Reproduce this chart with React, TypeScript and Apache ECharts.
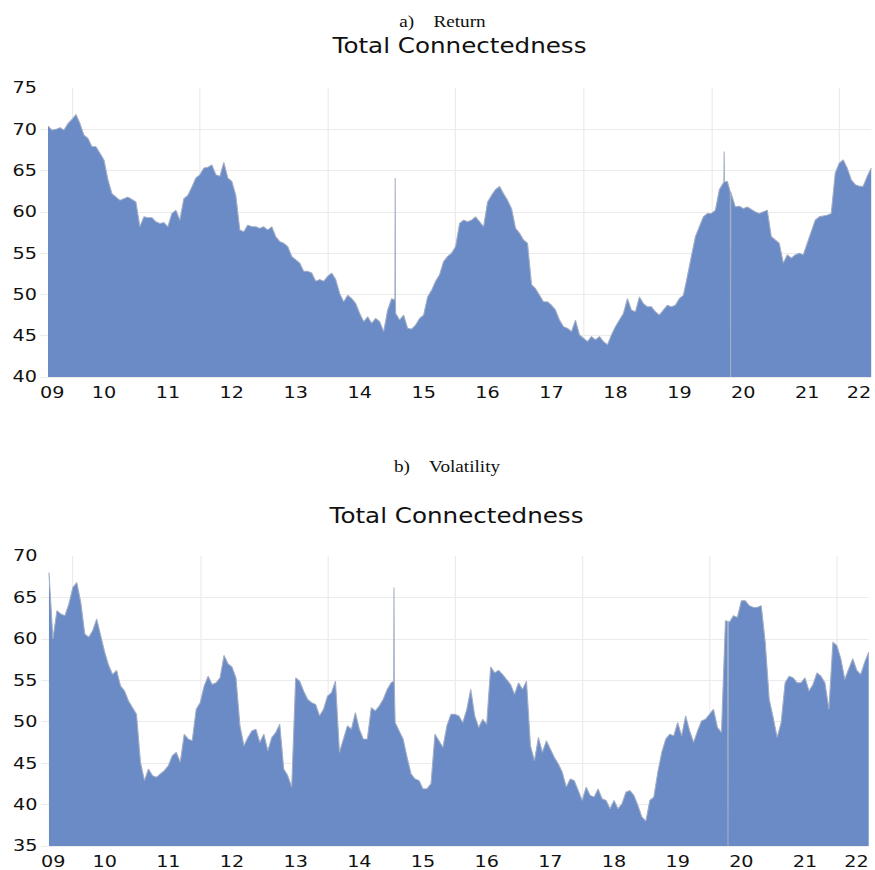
import { useEffect, useRef } from "react";
import * as echarts from "echarts";

// Year tick labels (two-digit years, 2009 ... 2022)
const yearLabels = ["09", "10", "11", "12", "13", "14", "15", "16", "17", "18", "19", "20", "21", "22"];
const firstYear = 2009;
const lastYear = 2022;

// Samples are spaced 1/16 of a year apart, starting early 2009
const firstSample = 2009.125;
const sampleStep = 1 / 16;

// a) Return – total connectedness index
const returnTci = [
  70.4, 69.9, 70.0, 70.2, 69.9, 70.7, 71.2, 71.8, 70.7, 69.3,
  68.9, 67.9, 67.9, 67.1, 66.3, 63.9, 62.2, 61.8, 61.4, 61.6,
  61.8, 61.5, 61.2, 58.2, 59.4, 59.3, 59.3, 58.8, 58.6, 58.7,
  58.2, 59.8, 60.2, 59.0, 61.6, 62.0, 63.0, 64.1, 64.5, 65.3,
  65.4, 65.7, 64.5, 64.3, 66.0, 64.1, 63.7, 62.0, 57.8, 57.6,
  58.4, 58.2, 58.2, 58.0, 58.2, 57.8, 58.2, 57.0, 56.4, 56.2,
  55.8, 54.6, 54.2, 53.8, 52.8, 52.8, 52.6, 51.6, 51.8, 51.6,
  52.2, 52.6, 51.8, 50.1, 49.1, 49.9, 49.5, 48.9, 47.7, 46.7,
  47.3, 46.5, 47.1, 46.7, 45.5, 48.1, 49.5, 47.7, 46.9, 47.5,
  45.9, 45.8, 46.3, 47.1, 47.5, 49.7, 50.5, 51.6, 52.4, 54.0,
  54.6, 55.0, 55.8, 58.6, 59.0, 58.8, 59.0, 59.4, 58.8, 58.2,
  61.2, 62.0, 62.7, 63.1, 62.2, 61.4, 60.4, 58.0, 57.4, 56.6,
  56.2, 51.2, 50.7, 49.9, 49.1, 49.1, 48.7, 48.1, 46.9, 46.1,
  45.9, 45.5, 46.9, 45.1, 44.7, 44.3, 44.9, 44.5, 44.9, 44.3,
  43.9, 45.1, 46.1, 46.9, 47.7, 49.5, 48.1, 47.9, 49.7, 48.9,
  48.5, 48.5, 47.9, 47.5, 48.1, 48.7, 48.5, 48.7, 49.5, 49.9,
  52.2, 54.6, 57.0, 58.2, 59.4, 59.8, 59.8, 60.2, 62.7, 63.5,
  63.7, 62.4, 60.6, 60.7, 60.4, 60.6, 60.3, 60.0, 59.8, 60.0,
  60.2, 57.0, 56.6, 56.2, 53.8, 54.8, 54.4, 54.8, 55.0, 54.8,
  56.2, 57.6, 59.0, 59.4, 59.5, 59.6, 59.8, 64.7, 65.9, 66.3,
  65.3, 63.9, 63.3, 63.1, 63.1, 64.3, 65.3,
];

// b) Volatility – total connectedness index
const volatilityTci = [
  68.0, 60.0, 63.4, 63.0, 62.8, 64.2, 66.2, 66.8, 64.4, 60.6,
  60.2, 61.0, 62.4, 60.4, 58.4, 56.8, 55.7, 56.2, 54.3, 53.7,
  52.5, 51.7, 50.9, 45.1, 42.9, 44.3, 43.5, 43.3, 43.7, 44.1,
  44.7, 45.9, 46.3, 45.1, 48.5, 47.9, 47.7, 51.5, 52.3, 54.3,
  55.5, 54.5, 54.7, 55.3, 58.0, 57.0, 56.6, 55.3, 49.5, 47.1,
  48.1, 48.9, 49.1, 47.5, 48.5, 46.5, 48.1, 48.7, 49.7, 44.3,
  43.5, 42.1, 55.3, 54.9, 53.7, 52.7, 52.3, 52.1, 50.7, 51.5,
  53.1, 53.5, 54.9, 46.3, 47.9, 49.5, 49.1, 51.1, 49.1, 47.9,
  47.9, 51.7, 51.3, 51.9, 52.7, 53.9, 54.7, 49.9, 48.9, 47.9,
  45.7, 43.7, 43.1, 42.9, 41.9, 41.9, 42.5, 48.5, 47.7, 46.9,
  49.5, 50.9, 50.9, 50.7, 49.9, 51.5, 53.9, 50.7, 49.3, 50.3,
  49.7, 56.6, 55.9, 56.2, 55.7, 55.1, 54.5, 53.3, 54.7, 53.9,
  54.9, 47.1, 45.3, 48.1, 46.3, 47.7, 46.7, 45.7, 44.9, 43.9,
  42.1, 43.1, 42.9, 41.7, 40.5, 42.1, 41.1, 40.9, 41.9, 40.7,
  40.5, 39.5, 40.5, 39.5, 40.1, 41.5, 41.7, 41.1, 39.9, 38.5,
  38.0, 40.5, 40.9, 43.9, 46.3, 47.9, 48.5, 48.3, 49.9, 48.3,
  50.7, 48.9, 47.5, 48.9, 50.1, 50.3, 50.9, 51.5, 49.3, 48.7,
  62.2, 62.0, 62.8, 62.6, 64.6, 64.6, 64.0, 63.8, 63.8, 64.0,
  59.6, 52.7, 50.5, 48.1, 49.9, 54.7, 55.5, 55.3, 54.7, 54.7,
  55.3, 53.7, 54.5, 55.9, 55.5, 54.7, 51.5, 59.6, 59.2, 57.6,
  55.1, 56.4, 57.6, 56.2, 55.7, 57.2, 58.4,
];

// Single-day outliers: [year, level around it, outlier value]
const returnSpikes = [
  [2014.555, 49.3, 64.1],
  [2019.7, 63.6, 67.3],
  [2019.8, 62.4, 40],
];
const volatilitySpikes = [
  [2014.544, 54.9, 66.2],
  [2019.79, 62.1, 35],
];

// Vertical reference lines every second year
const verticalGridYears = [2009.5, 2011.5, 2013.5, 2015.5, 2017.5, 2019.5, 2021.5];

// Return axis range and volatility axis range
const returnRange = [40, 75];
const volatilityRange = [35, 70];

// The drawing is laid out on a narrower canvas and widened horizontally
const STRETCH_X = 1.2;
const PAGE_W = 875;
const PAGE_H = 870;
const CANVAS_W = PAGE_W / STRETCH_X;

const AREA_COLOR = "#6a8bc6";
const EDGE_COLOR = "#a3aec4";
const GRID_COLOR = "#ebebeb";
const LABEL_FONT = "DejaVu Sans";

function buildSeriesData(values: number[], spikes: number[][]) {
  const pts: number[][] = values.map((v, i) => [firstSample + i * sampleStep, v]);
  const eps = 0.004;
  spikes.forEach(([t, level, peak]) => {
    pts.push([t - eps, level], [t, peak], [t + eps, level]);
  });
  pts.sort((a, b) => a[0] - b[0]);
  return pts;
}

function ex(px: number) {
  return px / STRETCH_X;
}

export default function App() {
  const ref = useRef<HTMLDivElement>(null);

  useEffect(() => {
    if (!ref.current) return;
    const chart = echarts.init(ref.current, null, { renderer: "svg" });

    const xAxisBase = (gridIndex: number) => ({
      type: "value" as const,
      gridIndex,
      min: firstYear,
      max: lastYear,
      interval: 1,
      axisLine: { show: false },
      axisTick: { show: false },
      splitLine: { show: false },
      axisLabel: {
        formatter: (v: number) => yearLabels[Math.round(v - firstYear)] ?? "",
        fontFamily: LABEL_FONT,
        fontSize: 16,
        color: "#111",
        margin: 8,
        alignMinLabel: "left",
        alignMaxLabel: "right",
      },
    });

    const yAxisBase = (gridIndex: number, range: number[], margin: number) => ({
      type: "value" as const,
      gridIndex,
      min: range[0],
      max: range[1],
      interval: 5,
      axisLine: { show: false },
      axisTick: { show: false },
      axisLabel: {
        fontFamily: LABEL_FONT,
        fontSize: 16,
        color: "#111",
        margin,
      },
      splitLine: {
        show: true,
        showMaxLine: false,
        lineStyle: { color: GRID_COLOR, width: 1 },
      },
    });

    const areaSeries = (idx: number, data: number[][]) => ({
      type: "line" as const,
      xAxisIndex: idx,
      yAxisIndex: idx,
      data,
      showSymbol: false,
      symbol: "none",
      z: 3,
      lineStyle: { color: EDGE_COLOR, width: 0.9 },
      areaStyle: { color: AREA_COLOR, opacity: 1 },
      markLine: {
        silent: true,
        symbol: "none",
        z: 1,
        label: { show: false },
        lineStyle: { color: GRID_COLOR, width: 1, type: "solid" },
        data: verticalGridYears.map((x) => ({ xAxis: x })),
      },
    });

    const titleText = (x: number, y: number, text: string, font: string) => ({
      type: "text",
      x: ex(x),
      y,
      style: {
        text,
        font,
        fill: "#111",
        textAlign: "center",
        textVerticalAlign: "middle",
      },
    });

    chart.setOption({
      animation: false,
      backgroundColor: "#ffffff",
      grid: [
        { left: ex(40), width: ex(832), top: 88, height: 289, containLabel: false },
        { left: ex(41), width: ex(827.7), top: 556, height: 291, containLabel: false },
      ],
      xAxis: [xAxisBase(0), xAxisBase(1)],
      yAxis: [yAxisBase(0, returnRange, 2.5), yAxisBase(1, volatilityRange, 3)],
      series: [
        areaSeries(0, buildSeriesData(returnTci, returnSpikes)),
        areaSeries(1, buildSeriesData(volatilityTci, volatilitySpikes)),
      ],
      graphic: [
        titleText(442.5, 22, "a)\u00a0\u00a0\u00a0\u00a0Return", '16px "Liberation Serif"'),
        titleText(459.5, 46, "Total Connectedness", `20.5px "${LABEL_FONT}"`),
        titleText(447, 467, "b)\u00a0\u00a0\u00a0\u00a0Volatility", '16px "Liberation Serif"'),
        titleText(456.5, 516, "Total Connectedness", `20.5px "${LABEL_FONT}"`),
      ],
    });

    return () => chart.dispose();
  }, []);

  return (
    <div
      ref={ref}
      style={{
        position: "absolute",
        left: 0,
        top: 0,
        width: CANVAS_W,
        height: PAGE_H,
        transform: `scaleX(${STRETCH_X})`,
        transformOrigin: "0 0",
        background: "#fff",
      }}
    />
  );
}
